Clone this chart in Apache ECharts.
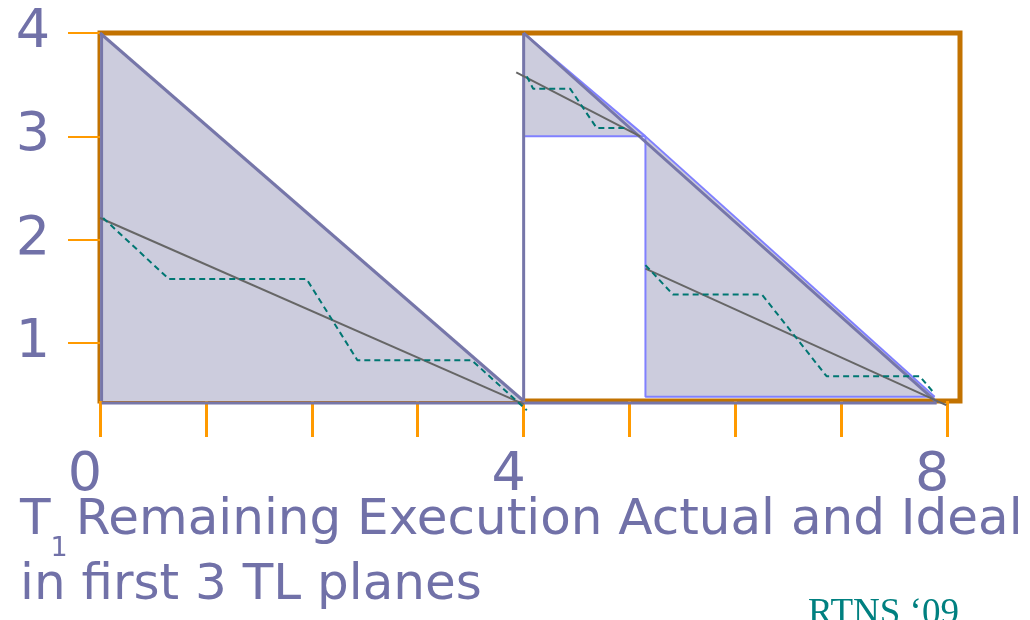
<!DOCTYPE html>
<html><head><meta charset="utf-8">
<script src="https://cdn.jsdelivr.net/npm/echarts@6/dist/echarts.min.js"></script>
<style>html,body{margin:0;padding:0;background:#fff}#c{width:1030px;height:620px}</style>
</head><body><div id="c"></div>
<script>
// ---- data ----
const xTickValues = [0, 1, 2, 3, 4, 5, 6, 7, 8];
const xLabelValues = [0, 4, 8];
const yLabelValues = [1, 2, 3, 4];
const yTop = 4;
const yBottom = 0.44;
const xMax = 8.12;
const plane1Envelope = [[0, 4], [4, 0.44]];
const plane1LeftEdge = [[0.015, 4], [0.015, 0.44]];
const planeBottomEdge = [[0.015, 0.42], [7.9, 0.42]];
const plane1Split = [[4, 4], [4, 0.44]];
const plane2Envelope = [[4, 4], [5.15, 3.0]];
const plane2Base = 3.0;
const plane2BaseEdge = [[4, 3.0], [5.15, 3.0]];
const plane3Envelope = [[5.15, 3.0], [7.88, 0.48]];
const plane3Base = 0.48;
const plane3Edges = [[5.15, 3.0], [5.15, 0.48], [7.88, 0.48]];
const mainDiagonal = [[4, 4], [7.9, 0.43]];
const ideal1 = [[0, 2.21], [4, 0.41]];
const ideal2 = [[3.93, 3.62], [5.1, 3.0]];
const ideal3 = [[5.15, 1.72], [7.99, 0.40]];
const actual1 = [[0.03, 2.21], [0.65, 1.62], [1.95, 1.62], [2.43, 0.835], [3.51, 0.835], [4.03, 0.35]];
const actual2 = [[4.03, 3.58], [4.09, 3.46], [4.44, 3.46], [4.69, 3.08], [4.97, 3.08]];
const actual3 = [[5.15, 1.755], [5.41, 1.47], [6.25, 1.47], [6.86, 0.68], [7.74, 0.68], [7.88, 0.51]];
const titleLine1Main = 'T';
const titleLine1Sub = '1';
const titleLine1Rest = 'Remaining Execution Actual and Ideal';
const titleLine2 = 'in first 3 TL planes';
const footer = 'RTNS \u201809';

// ---- styles ----
const FONT = '"DejaVu Sans", "Noto Sans", sans-serif';
const TXT = '#7171A8';
const FILL = '#CCCCDD';
const PURPLE = '#7676A9';
const BLUE = '#8080FF';
const GRAY = '#666666';
const TEAL = '#007672';
const ORANGE_BORDER = '#C27200';
const ORANGE_TICK = '#FF9A00';

function seg(data, color, width, extra) {
  return Object.assign({
    type: 'line', data: data, symbol: 'none', silent: true, clip: false,
    lineStyle: { color: color, width: width }, animation: false
  }, extra || {});
}

const chart = echarts.init(document.getElementById('c'), null, { renderer: 'canvas' });
chart.setOption({
  animation: false,
  backgroundColor: '#fff',
  grid: { left: 100, right: 70, top: 33, bottom: 219, show: true,
          borderColor: ORANGE_BORDER, borderWidth: 5, backgroundColor: 'transparent' },
  xAxis: {
    type: 'value', min: 0, max: xMax,
    splitLine: { show: false }, axisLine: { show: false },
    axisTick: { show: true, customValues: xTickValues, length: 36,
                lineStyle: { color: ORANGE_TICK, width: 3 } },
    axisLabel: { customValues: xLabelValues, fontSize: 54, color: TXT, fontFamily: FONT,
                 margin: 48, padding: [0, 30, 0, 0] }
  },
  yAxis: {
    type: 'value', min: yBottom, max: yTop,
    splitLine: { show: false }, axisLine: { show: false },
    axisTick: { show: true, customValues: yLabelValues, length: 32,
                lineStyle: { color: ORANGE_TICK, width: 2 } },
    axisLabel: { customValues: yLabelValues, fontSize: 54, color: TXT, fontFamily: FONT,
                 margin: 50 }
  },
  series: [
    seg(plane1Envelope, PURPLE, 3, { areaStyle: { color: FILL, opacity: 1, origin: 'start' }, z: 2 }),
    seg(plane2Envelope, BLUE, 2, { areaStyle: { color: FILL, opacity: 1, origin: plane2Base }, z: 2 }),
    seg(plane3Envelope, BLUE, 2, { areaStyle: { color: FILL, opacity: 1, origin: plane3Base }, z: 2 }),
    seg(plane2BaseEdge, BLUE, 2, { z: 3 }),
    seg(plane3Edges, BLUE, 2, { z: 3 }),
    seg(plane1LeftEdge, PURPLE, 3, { z: 4 }),
    seg(planeBottomEdge, PURPLE, 3, { z: 4 }),
    seg(plane1Split, PURPLE, 3, { z: 4 }),
    seg(mainDiagonal, PURPLE, 3, { z: 4 }),
    seg(ideal1, GRAY, 2, { z: 5 }),
    seg(ideal2, GRAY, 2, { z: 5 }),
    seg(ideal3, GRAY, 2, { z: 5 }),
    seg(actual1, TEAL, 2, { z: 6, lineStyle: { color: TEAL, width: 2, type: [6, 4] } }),
    seg(actual2, TEAL, 2, { z: 6, lineStyle: { color: TEAL, width: 2, type: [6, 4] } }),
    seg(actual3, TEAL, 2, { z: 6, lineStyle: { color: TEAL, width: 2, type: [6, 4] } })
  ],
  graphic: [
    { type: 'text', left: 20, top: 481, silent: true,
      style: {
        text: '{m|' + titleLine1Main + '}{s|' + titleLine1Sub + '}{m|' + titleLine1Rest + '}',
        rich: {
          m: { fontSize: 50, fontFamily: FONT, fill: TXT, color: TXT, lineHeight: 62 },
          s: { fontSize: 27, fontFamily: FONT, fill: TXT, color: TXT, lineHeight: 27, padding: [54, 8, 0, 0] }
        }
      } },
    { type: 'text', left: 20, top: 561, silent: true,
      style: { text: titleLine2, font: '50px ' + FONT, fill: TXT } },
    { type: 'text', left: 808, top: 596, silent: true,
      style: { text: footer, font: '37px "Liberation Serif", serif', fill: '#008080' } }
  ]
});
</script>
</body></html>
